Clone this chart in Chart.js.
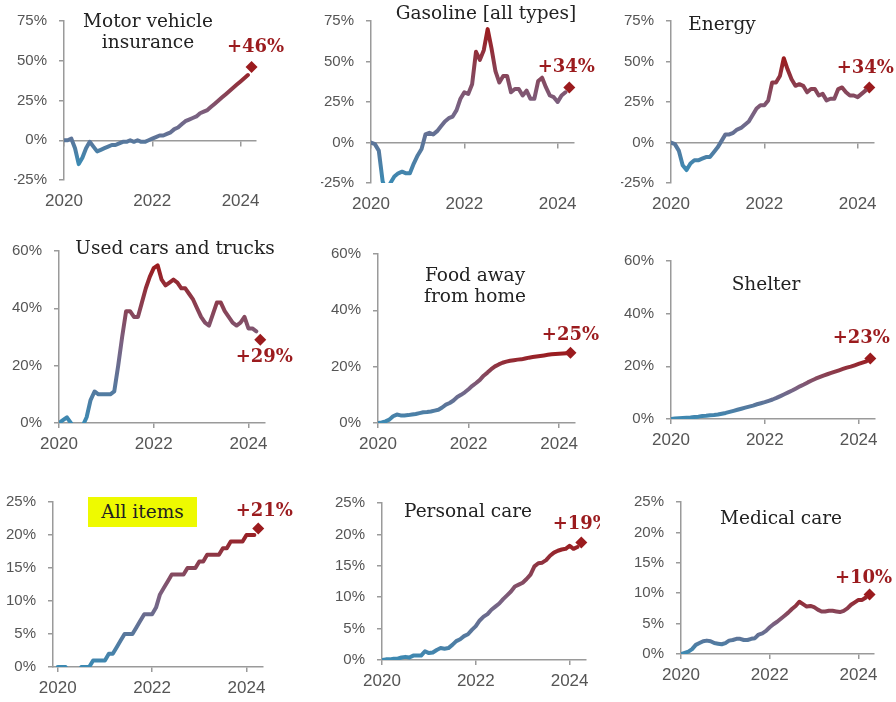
<!DOCTYPE html>
<html>
<head>
<meta charset="utf-8">
<script src="https://cdn.jsdelivr.net/npm/chart.js@4"></script>
<style>
  body { margin: 0; background: #fff; width: 896px; height: 702px; position: relative; overflow: hidden; }
  canvas { position: absolute; }
  .title { position: absolute; font-family: "DejaVu Serif", serif; font-size: 18.5px; color: #222;
           text-align: center; line-height: 21px; white-space: nowrap; transform: translate(-50%, -50%); }
  .hl { position: absolute; background: #eefa00; font-family: "DejaVu Serif", serif; font-size: 18.5px; color: #222;
        text-align: center; line-height: 30px; }
</style>
</head>
<body>
<script>
// ---- data: % change since Jan 2020, monthly Jan 2020 .. Apr 2024 (last value = marker)
const yearTicks = [2020, 2022, 2024];
const ticksWide = [-25, 0, 25, 50, 75];
const ticks60 = [0, 20, 40, 60];
const ticks25 = [0, 5, 10, 15, 20, 25];

const motorVehicle = [0, 0, 1, -5, -15, -11, -5, -1, -4, -7, -6, -5,
  -4, -3, -3, -2, -1, -1, 0, -1, 0, -1, -1, 0,
  1, 2, 3, 3, 4, 5, 7, 8, 10, 12, 13, 14,
  15, 17, 18, 19, 21, 23, 25, 27, 29, 31, 33, 35,
  37, 39, 41, 46];
const gasoline = [0, -1, -5, -24, -31, -25, -21, -19, -18, -19, -19, -13,
  -8, -4, 5, 6, 5, 7, 10, 13, 15, 16, 20, 27,
  31, 30, 36, 56, 51, 57, 70, 58, 44, 37, 41, 41,
  31, 33, 33, 29, 32, 27, 27, 38, 40, 34, 29, 28,
  25, 29, 31, 34];
const energy = [0, -1, -5, -14, -17, -13, -11, -11, -10, -9, -9, -6,
  -3, 1, 5, 5, 6, 8, 9, 11, 13, 17, 21, 23,
  23, 26, 37, 37, 41, 52, 45, 39, 35, 36, 35, 31,
  33, 33, 29, 30, 26, 27, 27, 33, 34, 31, 29, 29,
  28, 30, 32, 34];
const usedCars = [0, 1, 2, 0, -2, -3, -1, 2, 8, 11, 10, 10,
  10, 10, 11, 20, 30, 39, 39, 37, 37, 42, 47, 51,
  54, 55, 50, 48, 49, 50, 49, 47, 47, 45, 43, 40,
  37, 35, 34, 38, 42, 42, 39, 37, 35, 34, 35, 37,
  33, 33, 32, 29];
const foodAway = [0, 0.2, 0.6, 1.2, 2.4, 3.0, 2.7, 2.7, 2.8, 3.0, 3.2, 3.5,
  3.8, 3.9, 4.1, 4.4, 4.7, 5.5, 6.5, 7.1, 8.0, 9.2, 10.0, 10.9,
  12.0, 13.2, 14.2, 15.3, 16.8, 17.9, 19.1, 20.1, 20.8, 21.4, 21.8, 22.1,
  22.3, 22.5, 22.6, 22.9, 23.2, 23.4, 23.6, 23.8, 24.0, 24.2, 24.4, 24.5,
  24.6, 24.7, 24.8, 24.9];
const shelter = [0, 0.2, 0.3, 0.4, 0.5, 0.6, 0.8, 0.9, 1.1, 1.2, 1.4, 1.5,
  1.7, 2.0, 2.3, 2.7, 3.1, 3.5, 3.9, 4.3, 4.7, 5.1, 5.6, 6.0,
  6.4, 6.9, 7.4, 8.0, 8.7, 9.4, 10.1, 10.8, 11.6, 12.4, 13.1, 13.9,
  14.6, 15.3, 15.9, 16.5, 17.0, 17.5, 18.0, 18.5, 19.0, 19.5, 19.9, 20.4,
  20.9, 21.4, 21.9, 23];
const allItems = [0, 0, 0, -1, -1, -1, 0, 0, 0, 1, 1, 1,
  1, 2, 2, 3, 4, 5, 5, 5, 6, 7, 8, 8,
  8, 9, 11, 12, 13, 14, 14, 14, 14, 15, 15, 15,
  16, 16, 17, 17, 17, 17, 18, 18, 19, 19, 19, 19,
  20, 20, 20, 21];
const personalCare = [0, 0.1, 0.1, 0.2, 0.2, 0.4, 0.5, 0.4, 0.7, 0.7, 0.7, 1.4,
  1.1, 1.2, 1.6, 1.9, 1.8, 1.9, 2.4, 3.0, 3.3, 3.8, 4.1, 4.8,
  5.4, 6.3, 6.9, 7.3, 8.0, 8.5, 9.0, 9.7, 10.3, 10.9, 11.7, 12.0,
  12.3, 12.9, 13.6, 14.9, 15.4, 15.5, 15.9, 16.6, 17.1, 17.4, 17.6, 17.7,
  18.2, 17.7, 18.0, 18.7];
const medicalCare = [0, 0.2, 0.4, 0.8, 1.5, 1.8, 2.1, 2.2, 2.1, 1.8, 1.7, 1.6,
  1.8, 2.2, 2.3, 2.5, 2.5, 2.3, 2.3, 2.5, 2.6, 3.2, 3.4, 3.8,
  4.4, 4.9, 5.3, 5.8, 6.3, 6.8, 7.4, 7.9, 8.6, 8.2, 7.8, 7.9,
  7.7, 7.3, 7.0, 7.0, 7.1, 7.1, 7.0, 6.9, 7.1, 7.5, 8.1, 8.5,
  8.9, 8.9, 9.3, 9.8];

// ---- layout: cell = canvas rect, area = axis box [left, top, right, bottom] in page px
const panels = [
  { title: ['Motor vehicle', 'insurance'], values: motorVehicle, yTicks: ticksWide, cell: [0, 0, 300, 230], area: [64, 16, 256, 180], xMin: 2020, tAt: [148, 31], lab: [4, -20] },
  { title: ['Gasoline [all types]'], values: gasoline, yTicks: ticksWide, cell: [300, 0, 300, 230], area: [371, 17, 574, 183], xMin: 2020, tAt: [486, 12], lab: [-3, -20] },
  { title: ['Energy'], values: energy, yTicks: ticksWide, cell: [600, 0, 296, 230], area: [671, 17, 874, 183], xMin: 2020, tAt: [722, 23], lab: [-4, -19] },
  { title: ['Used cars and trucks'], values: usedCars, yTicks: ticks60, cell: [0, 230, 300, 240], area: [59, 248, 265, 423], xMin: 2020, tAt: [175, 247], lab: [4, 17] },
  { title: ['Food away', 'from home'], values: foodAway, yTicks: ticks60, cell: [300, 230, 300, 240], area: [378, 254, 575, 423], xMin: 2020, tAt: [475, 285], lab: [0, -18] },
  { title: ['Shelter'], values: shelter, yTicks: ticks60, cell: [600, 230, 296, 240], area: [671, 261, 875, 419], xMin: 2020, tAt: [766, 283], lab: [-9, -20] },
  { title: ['All items'], values: allItems, yTicks: ticks25, cell: [0, 470, 300, 232], area: [53, 502, 263, 667], xMin: 2019.9, tAt: [142, 512], lab: [6, -17], highlight: true },
  { title: ['Personal care'], values: personalCare, yTicks: ticks25, cell: [300, 470, 300, 232], area: [382, 503, 586, 660], xMin: 2020, tAt: [468, 510], lab: [0, -18] },
  { title: ['Medical care'], values: medicalCare, yTicks: ticks25, cell: [600, 470, 296, 232], area: [681, 502, 874, 654], xMin: 2020, tAt: [781, 517], lab: [-6, -16] }
];

const X_MAX = 2024.35;
const AXIS = '#9a9a9a';
const RED = '#9b1b1e';

function lineGradient(chart, lo, hi) {
  const area = chart.chartArea;
  if (!area) return '#3b8ab3';
  const y = chart.scales.y;
  const g = chart.ctx.createLinearGradient(0, y.getPixelForValue(lo), 0, y.getPixelForValue(hi));
  g.addColorStop(0, '#3b8ab3');
  g.addColorStop(0.5, '#7a6282');
  g.addColorStop(1, RED);
  return g;
}

const endLabel = {
  id: 'endLabel',
  afterDatasetsDraw(chart, args, opts) {
    const pt = chart.getDatasetMeta(1).data[0];
    if (!pt) return;
    const c = chart.ctx;
    c.save();
    c.font = 'bold 18px "DejaVu Serif"';
    c.fillStyle = RED;
    c.textAlign = 'center';
    c.textBaseline = 'middle';
    c.fillText(opts.text, pt.x + opts.dx, pt.y + opts.dy);
    c.restore();
  }
};

function makePanel(p) {
  const [cx, cy, cw, ch] = p.cell;
  const [L, T, R, B] = p.area;
  const YW = 50, XH = 33;

  const canvas = document.createElement('canvas');
  canvas.width = cw; canvas.height = ch;
  canvas.style.left = cx + 'px'; canvas.style.top = cy + 'px';
  canvas.style.width = cw + 'px'; canvas.style.height = ch + 'px';
  document.body.appendChild(canvas);

  const n = p.values.length;
  const linePts = p.values.slice(0, n - 1).map((v, i) => ({ x: 2020 + i / 12, y: v }));
  const lastPt = { x: 2020 + (n - 1) / 12, y: p.values[n - 1] };
  const yMin = p.yTicks[0], yMax = p.yTicks[p.yTicks.length - 1];
  const lo = Math.max(Math.min(...p.values), yMin);
  const hi = Math.min(Math.max(...p.values), yMax);
  const zeroLine = yMin < 0;
  const setYears = s => { s.ticks = yearTicks.map(v => ({ value: v })); };

  const scales = {
    x: {
      type: 'linear', min: p.xMin, max: X_MAX,
      afterBuildTicks: setYears,
      afterFit: s => { s.height = XH; },
      ticks: { callback: v => String(v), font: { family: 'Liberation Sans', size: 17 }, color: '#555', padding: 6, maxRotation: 0, autoSkip: false },
      grid: { drawOnChartArea: false, tickLength: 5, color: zeroLine ? 'rgba(0,0,0,0)' : AXIS, lineWidth: 1.5 },
      border: { display: !zeroLine, color: AXIS, width: 1.5 }
    },
    y: {
      min: yMin, max: yMax,
      afterBuildTicks: s => { s.ticks = p.yTicks.map(v => ({ value: v })); },
      afterFit: s => { s.width = YW; },
      ticks: { callback: v => v + '%', font: { family: 'Liberation Sans', size: 15 }, color: '#555', padding: 12 },
      grid: { drawOnChartArea: false, tickLength: 5, color: AXIS, lineWidth: 1.5 },
      border: { color: AXIS, width: 1.5 }
    }
  };
  if (zeroLine) {
    scales.xz = {
      type: 'linear', axis: 'x', position: { y: 0 }, min: p.xMin, max: X_MAX,
      afterBuildTicks: setYears,
      ticks: { display: false },
      grid: { drawOnChartArea: false, tickLength: 5, color: AXIS, lineWidth: 1.5 },
      border: { color: AXIS, width: 1.5 }
    };
  }

  new Chart(canvas, {
    type: 'line',
    data: {
      datasets: [
        {
          data: linePts,
          borderColor: ctx => lineGradient(ctx.chart, lo, hi),
          borderWidth: 4, pointRadius: 0, tension: 0,
          borderJoinStyle: 'round', borderCapStyle: 'round'
        },
        {
          data: [lastPt], showLine: false, clip: false,
          pointStyle: 'rectRot', pointRadius: 6,
          backgroundColor: RED, borderColor: RED, borderWidth: 0
        }
      ]
    },
    options: {
      responsive: false, animation: false,
      layout: { padding: { left: L - cx - YW, top: T - cy, right: cx + cw - R, bottom: cy + ch - B - XH } },
      scales,
      plugins: {
        legend: { display: false }, tooltip: { enabled: false },
        endLabel: { text: '+' + Math.round(p.values[n - 1]) + '%', dx: p.lab[0], dy: p.lab[1] }
      }
    },
    plugins: [endLabel]
  });

  if (p.highlight) {
    const d = document.createElement('div');
    d.className = 'hl';
    d.style.left = '88px'; d.style.top = '497px'; d.style.width = '109px'; d.style.height = '30px';
    d.textContent = p.title[0];
    document.body.appendChild(d);
  } else {
    const d = document.createElement('div');
    d.className = 'title';
    d.style.left = p.tAt[0] + 'px'; d.style.top = p.tAt[1] + 'px';
    d.innerHTML = p.title.join('<br>');
    document.body.appendChild(d);
  }
}

panels.forEach(makePanel);
</script>
</body>
</html>
